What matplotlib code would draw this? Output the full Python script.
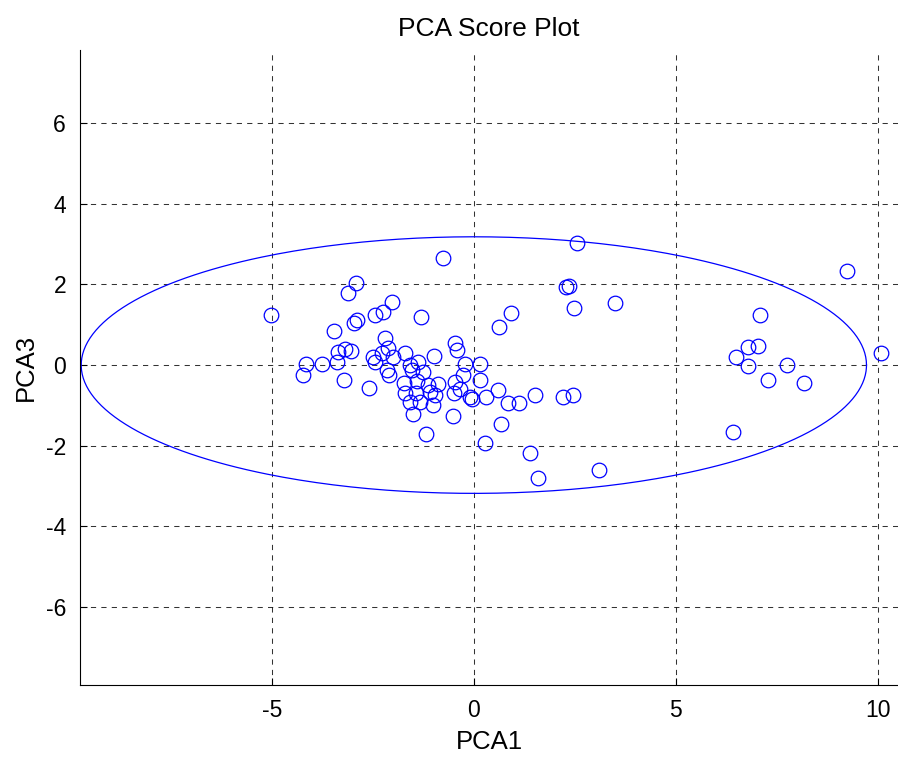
import numpy as np
import matplotlib
matplotlib.use("Agg")
import matplotlib.pyplot as plt

plt.rcParams['font.family'] = ['Liberation Sans', 'DejaVu Sans']

# PCA scores (PCA1, PCA3)
pca1 = [-5.02, -4.23, -4.16, -3.76, -3.39, -3.37, -3.19, -3.04, -3.22, -3.47,
        -3.12, -2.92, -2.97, -2.90, -2.45, -2.25, -2.03, -1.31, -2.20, -2.50,
        -2.28, -2.13, -2.45, -2.00, -1.71, -2.60, -2.15, -2.10, -1.58, -1.39,
        -1.53, -1.26, -0.99, -1.73, -1.41, -1.14, -0.89, -1.71, -1.44, -1.09,
        -0.97, -1.58, -1.34, -1.01, -1.51, -1.19, -0.77, -0.47, -0.42, -0.47,
        -0.35, -0.50, -0.27, -0.22, 0.15, 0.15, -0.10, -0.05, 0.30, -0.52,
        0.59, 0.84, 1.11, 1.51, 2.20, 2.45, 0.67, 0.27, 1.39, 1.58,
        3.09, 0.62, 0.92, 2.28, 2.35, 2.48, 2.55, 3.49, 9.23, 7.08,
        6.78, 7.03, 6.49, 6.78, 7.75, 7.28, 8.17, 6.41, 10.07]
pca3 = [1.24, -0.25, 0.02, 0.02, 0.07, 0.32, 0.40, 0.35, -0.37, 0.84,
        1.78, 2.03, 1.04, 1.12, 1.24, 1.31, 1.56, 1.19, 0.67, 0.20,
        0.30, 0.42, 0.07, 0.20, 0.30, -0.57, -0.12, -0.25, 0.00, 0.07,
        -0.12, -0.17, 0.22, -0.45, -0.40, -0.50, -0.47, -0.69, -0.69, -0.67,
        -0.74, -0.92, -0.92, -0.99, -1.21, -1.71, 2.65, 0.55, 0.37, -0.42,
        -0.59, -0.69, -0.25, 0.02, 0.02, -0.37, -0.79, -0.84, -0.79, -1.26,
        -0.62, -0.94, -0.94, -0.74, -0.79, -0.74, -1.46, -1.93, -2.18, -2.80,
        -2.60, 0.94, 1.29, 1.93, 1.96, 1.41, 3.02, 1.54, 2.33, 1.24,
        0.45, 0.47, 0.20, -0.02, 0.00, -0.37, -0.45, -1.66, 0.30]

# Confidence ellipse semi-axes
ell_a = 9.72
ell_b = 3.18

xticks = [-5, 0, 5, 10]
yticks = [-6, -4, -2, 0, 2, 4, 6]

fig = plt.figure(figsize=(8.98, 7.58), dpi=100)
ax = fig.add_axes([80/898, 73/758, 1 - 80/898, 635/758])

t = np.linspace(0, 2*np.pi, 400)
ax.plot(ell_a*np.cos(t), ell_b*np.sin(t), color='blue', lw=0.9)
ax.plot(pca1, pca3, linestyle='none', marker='o', markersize=10.5,
        markerfacecolor='none', markeredgecolor='blue', markeredgewidth=0.9)

ax.set_xlim(-9.75, 10.50)
ax.set_ylim(-7.93, 7.81)
ax.set_xticks(xticks)
ax.set_yticks(yticks)
ax.set_xticklabels([str(v) for v in xticks])
ax.set_yticklabels([str(v) for v in yticks])
ax.grid(True, linestyle=(0, (5, 5)), color='black', lw=0.75, alpha=0.8)
ax.set_axisbelow(True)
ax.spines['top'].set_visible(False)
ax.spines['right'].set_visible(False)
ax.tick_params(direction='in', length=5, labelsize=16.5, pad=10)

ax.set_xlabel('PCA1', fontsize=18.5, labelpad=6)
ax.set_ylabel('PCA3', fontsize=18.5, labelpad=6)
ax.set_title('PCA Score Plot', fontsize=19, pad=10)

fig.savefig('out.png', dpi=100)
